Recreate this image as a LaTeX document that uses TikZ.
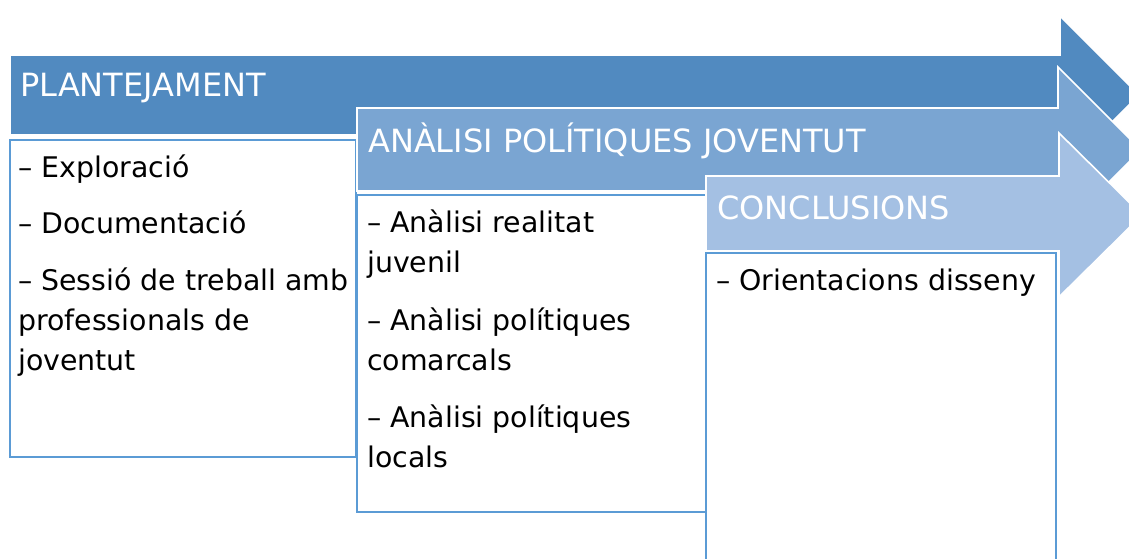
\documentclass[tikz,border=0pt]{standalone}
\usepackage{fontspec}
\setmainfont{DejaVu Sans}
\definecolor{arrA}{RGB}{81,138,192}
\definecolor{arrB}{RGB}{122,165,210}
\definecolor{arrC}{RGB}{164,192,227}
\definecolor{boxline}{RGB}{91,155,213}
\tikzset{
  arrowshape/.style={draw=white, line width=1.6pt},
  textbox/.style={draw=boxline, line width=1.8pt, fill=white},
  title/.style={anchor=base west, inner sep=0pt, text=white, font=\fontsize{32}{38}\selectfont},
  body/.style={anchor=base west, inner sep=0pt, text=black, font=\fontsize{28.4}{34}\selectfont},
}
\begin{document}
\begin{tikzpicture}[x=1pt,y=-1pt]
\useasboundingbox (0,0) rectangle (1129,559);
\clip (0,0) rectangle (1129,559);
\fill[white] (0,0) rectangle (1129,559);
% arrow 1
\path[arrowshape, fill=arrA] (10,55) -- (1060,55) -- (1060,16) -- (1139,95) -- (1060,174) -- (1060,135) -- (10,135) -- cycle;
\path[textbox] (10,140) rectangle (356,457);
% arrow 2
\path[arrowshape, fill=arrB] (357,108) -- (1058,108) -- (1058,67) -- (1141,150) -- (1058,233) -- (1058,191) -- (357,191) -- cycle;
\path[textbox] (357,195) rectangle (706,512);
% arrow 3
\path[arrowshape, fill=arrC] (706,176) -- (1059,176) -- (1059,133) -- (1142,215) -- (1059,297) -- (1059,251) -- (706,251) -- cycle;
\path[textbox] (706,253) rectangle (1056,620);
% titles
\node[title] (t1) at (20,97) {PLANTEJAMENT};
\node[title] (t2) at (368,152) {ANÀLISI POLÍTIQUES JOVENTUT};
\node[title] (t3) at (717,219) {CONCLUSIONS};
% box 1
\node[body] (a1) at (18,177) {– Exploració};
\node[body] (a2) at (18,233) {– Documentació};
\node[body] (a3) at (18,290) {– Sessió de treball amb};
\node[body] (a4) at (18,330) {professionals de};
\node[body] (a5) at (18,370) {joventut};
% box 2
\node[body] (b1) at (367,232) {– Anàlisi realitat};
\node[body] (b2) at (367,272) {juvenil};
\node[body] (b3) at (367,330) {– Anàlisi polítiques};
\node[body] (b4) at (367,370) {comarcals};
\node[body] (b5) at (367,427) {– Anàlisi polítiques};
\node[body] (b6) at (367,467) {locals};
% box 3
\node[body] (c1) at (716,290) {– Orientacions disseny};
\end{tikzpicture}
\end{document}
